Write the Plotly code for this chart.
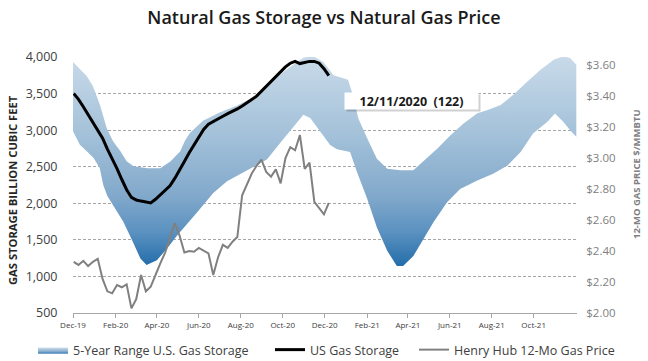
import pandas as pd
import plotly.graph_objects as go

# ---------------- data ----------------
week_dates = pd.date_range("2019-12-02", periods=54, freq="7D")

us_storage = [3500, 3420, 3320, 3215, 3110, 3010, 2890, 2740, 2610, 2475,
              2325, 2185, 2080, 2045, 2030, 2020, 2005, 2055, 2120, 2180,
              2240, 2340, 2450, 2570, 2690, 2800, 2915, 3010, 3080, 3120,
              3160, 3190, 3225, 3255, 3290, 3330, 3380, 3420, 3465, 3530,
              3600, 3670, 3735, 3800, 3865, 3915, 3940, 3910, 3925, 3940,
              3940, 3915, 3840, 3745]

hh_price = [2.33, 2.31, 2.337, 2.303, 2.33, 2.35, 2.22, 2.14, 2.127, 2.18,
            2.166, 2.185, 2.03, 2.09, 2.245, 2.14, 2.17, 2.25, 2.32, 2.39,
            2.48, 2.58, 2.50, 2.39, 2.40, 2.395, 2.42, 2.405, 2.385, 2.245,
            2.36, 2.44, 2.42, 2.46, 2.49, 2.76, 2.826, 2.90, 2.95, 2.99,
            2.91, 2.88, 2.927, 2.837, 3.00, 3.07, 3.05, 3.148, 2.93, 2.97,
            2.718, 2.675, 2.637, 2.71]

range_max_dates = ["2019-12-01", "2019-12-11", "2019-12-21", "2019-12-30", "2020-01-09",
                   "2020-01-19", "2020-01-28", "2020-02-08", "2020-02-17", "2020-02-27",
                   "2020-03-18", "2020-04-06", "2020-04-21", "2020-05-05", "2020-05-12",
                   "2020-05-19", "2020-06-07", "2020-07-02", "2020-07-26", "2020-08-24",
                   "2020-09-13", "2020-10-08", "2020-10-31", "2020-11-14", "2020-11-29",
                   "2020-12-14", "2020-12-25", "2021-01-04", "2021-01-11", "2021-01-19",
                   "2021-02-01", "2021-02-15", "2021-03-02", "2021-03-21", "2021-04-09",
                   "2021-04-23", "2021-05-14", "2021-06-02", "2021-06-21", "2021-07-11",
                   "2021-07-26", "2021-08-14", "2021-09-01", "2021-09-22", "2021-10-11",
                   "2021-10-30", "2021-11-13", "2021-11-23", "2021-12-02"]
range_max = [3930, 3830, 3740, 3600, 3350,
             3030, 2850, 2710, 2575, 2505,
             2480, 2480, 2575, 2710, 2860,
             2960, 3130, 3245, 3335, 3470,
             3655, 3840, 3990, 4015, 3930,
             3750, 3720, 3690, 3480, 3160,
             2885, 2610, 2472, 2450, 2450,
             2564, 2748, 2931, 3092, 3230,
             3275, 3344, 3482, 3665, 3826,
             3963, 4010, 3986, 3894]

range_min_dates = ["2019-12-01", "2019-12-11", "2019-12-21", "2019-12-31", "2020-01-09",
                   "2020-01-14", "2020-01-20", "2020-01-28", "2020-02-12", "2020-02-26",
                   "2020-03-08", "2020-03-17", "2020-04-01", "2020-04-16", "2020-05-01",
                   "2020-05-29", "2020-06-22", "2020-07-12", "2020-08-10", "2020-09-08",
                   "2020-09-27", "2020-10-16", "2020-10-31", "2020-11-10", "2020-11-24",
                   "2020-12-09", "2020-12-19", "2020-12-28", "2021-01-07", "2021-01-17",
                   "2021-02-01", "2021-02-15", "2021-03-02", "2021-03-16", "2021-03-25",
                   "2021-04-09", "2021-04-23", "2021-05-08", "2021-05-28", "2021-06-16",
                   "2021-07-11", "2021-08-03", "2021-08-24", "2021-09-12", "2021-09-30",
                   "2021-10-21", "2021-11-01", "2021-11-13", "2021-11-23", "2021-12-02"]
range_min = [2985, 2800, 2710, 2620, 2480,
             2250, 2100, 1980, 1750, 1475,
             1245, 1155, 1220, 1385, 1565,
             1870, 2140, 2300, 2455, 2600,
             2820, 3030, 3210, 3165, 2982,
             2798, 2740, 2725, 2702, 2427,
             2060, 1670, 1350, 1142, 1142,
             1280, 1510, 1739, 2014, 2197,
             2312, 2404, 2518, 2702, 2954,
             3115, 3229, 3115, 3000, 2908]

x_tick_dates = ["2019-12-01", "2020-02-01", "2020-04-01", "2020-06-01", "2020-08-01",
                "2020-10-01", "2020-12-01", "2021-02-01", "2021-04-01", "2021-06-01",
                "2021-08-01", "2021-10-01"]
x_tick_labels = ["Dec-19", "Feb-20", "Apr-20", "Jun-20", "Aug-20", "Oct-20",
                 "Dec-20", "Feb-21", "Apr-21", "Jun-21", "Aug-21", "Oct-21"]
left_ticks = [500, 1000, 1500, 2000, 2500, 3000, 3500, 4000]
right_ticks = [2.0, 2.2, 2.4, 2.6, 2.8, 3.0, 3.2, 3.4, 3.6]

chart_title = "Natural Gas Storage vs Natural Gas Price"
callout_text = "12/11/2020  (122)"

# ---------------- figure ----------------
FONT = "Open Sans"
fig = go.Figure()

fig.add_trace(go.Scatter(
    x=range_min_dates, y=range_min, mode="lines", line=dict(width=0, color="rgba(0,0,0,0)"),
    showlegend=False, hoverinfo="skip"))
fig.add_trace(go.Scatter(
    x=range_max_dates, y=range_max, mode="lines", line=dict(width=0, color="rgba(0,0,0,0)"),
    fill="tonexty", fillcolor="#9dbdd8",
    fillgradient=dict(type="vertical", start=1100, stop=4050,
                      colorscale=[[0, "#1f6aa8"], [0.17, "#5a91c0"], [0.34, "#82a9cb"],
                                  [0.62, "#a3c1d9"], [1, "#cadbea"]]),
    name="5-Year Range U.S. Gas Storage", legend="legend"))
fig.add_trace(go.Scatter(
    x=week_dates, y=us_storage, mode="lines", line=dict(color="#000000", width=3),
    name="US Gas Storage", legend="legend2"))
fig.add_trace(go.Scatter(
    x=week_dates, y=hh_price, mode="lines", line=dict(color="#808080", width=2),
    name="Henry Hub 12-Mo Gas Price", yaxis="y2", legend="legend3"))

grid = "#a6a6a6"
legend_font = dict(family=FONT, size=12.5, color="#404040")
leg_y = (313 - 350) / 256


def legend_at(text_px):
    return dict(orientation="h", x=(text_px - 41 - 73) / 504, xanchor="left",
                y=leg_y, yanchor="middle", font=legend_font, bgcolor="rgba(0,0,0,0)")


fig.update_layout(
    width=648, height=361,
    margin=dict(l=73, r=71, t=57, b=48, autoexpand=False),
    paper_bgcolor="white", plot_bgcolor="white",
    font=dict(family=FONT, color="#404040"),
    title=dict(text=chart_title,
               x=0.5, xref="container", xanchor="center",
               y=1 - 18 / 361, yref="container", yanchor="middle",
               font=dict(family=FONT, size=18, color="#1a1a1a", weight=600)),
    xaxis=dict(type="date", range=["2019-12-01", "2021-12-03"],
               tickvals=x_tick_dates, ticktext=x_tick_labels,
               showgrid=False, zeroline=False, showline=True, linecolor=grid, linewidth=1,
               ticks="outside", ticklen=4, tickcolor=grid,
               tickfont=dict(family=FONT, size=8, color="#404040")),
    yaxis=dict(range=[500, 4000], tickvals=left_ticks, tickformat=",d",
               showgrid=True, gridcolor=grid, griddash="3px,2px", gridwidth=1,
               zeroline=False, showline=False,
               ticks="outside", ticklen=12, tickcolor="rgba(0,0,0,0)",
               tickfont=dict(family=FONT, size=12.5, color="#404040")),
    yaxis2=dict(range=[2.0, 3.652], tickvals=right_ticks, tickformat="$.2f",
                overlaying="y", side="right", showgrid=False, zeroline=False, showline=False,
                ticks="outside", ticklen=6, tickcolor="rgba(0,0,0,0)",
                tickfont=dict(family=FONT, size=11.5, color="#808080")),
    legend=legend_at(74),
    legend2=legend_at(311),
    legend3=legend_at(455),
    showlegend=True,
)

fig.add_annotation(text="<b>GAS STORAGE BILLION CUBIC FEET</b>", textangle=-90,
                   xref="paper", yref="paper", x=(12 - 73) / 504, y=(313 - 190) / 256,
                   xanchor="center", yanchor="middle", showarrow=False,
                   font=dict(family=FONT, size=11.2, color="#262626"))
fig.add_annotation(text="<b>12-MO GAS PRICE $/MMBTU</b>", textangle=-90,
                   xref="paper", yref="paper", x=(636 - 73) / 504, y=(313 - 174) / 256,
                   xanchor="center", yanchor="middle", showarrow=False,
                   font=dict(family=FONT, size=9.5, color="#7f7f7f"))
# callout shadow + box
cx, cy = (411.5 - 73) / 504, (313 - 101) / 256
fig.add_annotation(text=" ", xref="paper", yref="paper", x=cx, y=cy, xshift=2, yshift=-2,
                   xanchor="center", yanchor="middle",
                   width=133, height=16, bgcolor="rgba(0,0,0,0.18)", showarrow=False,
                   borderpad=0)
fig.add_annotation(text="<b>" + callout_text + "</b>", xref="paper", yref="paper", x=cx, y=cy,
                   xanchor="center", yanchor="middle",
                   width=133, height=16, bgcolor="white", showarrow=False, borderpad=0,
                   font=dict(family=FONT, size=12.5, color="#1a1a1a"))

fig.write_html("out.html", config={"displayModeBar": False},
               post_script="document.body.style.margin='0';document.body.style.overflow='hidden';")
